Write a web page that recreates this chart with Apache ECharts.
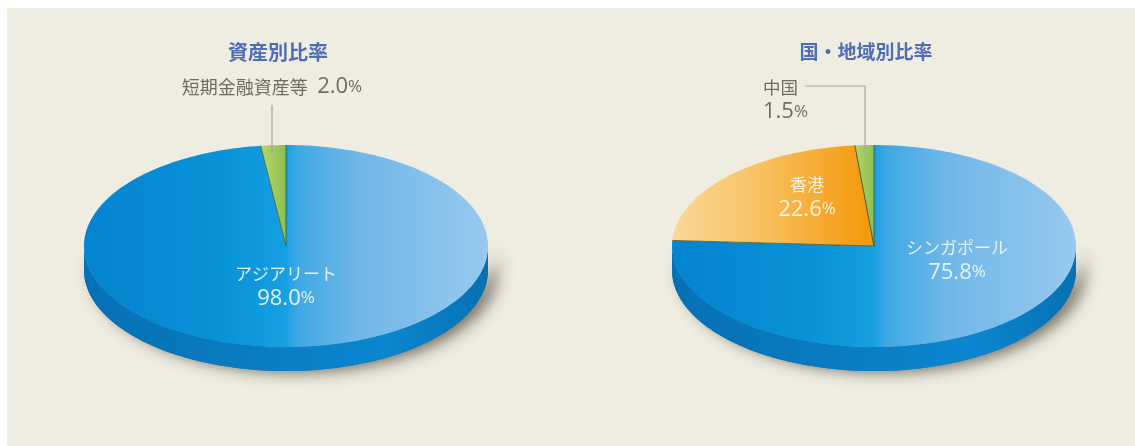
<!DOCTYPE html>
<html lang="ja"><head><meta charset="utf-8">
<style>html,body{margin:0;padding:0;background:#fff}#c{width:1135px;height:446px}</style>
<script src="https://cdn.jsdelivr.net/npm/echarts@6/dist/echarts.min.js"></script>
</head><body><div id="c"></div>
<script>
const assetNames = ['アジアリート', '短期金融資産等'];
const assetValues = [98.0, 2.0];
const regionNames = ['シンガポール', '香港', '中国'];
const regionValues = [75.8, 22.6, 1.5];
const chartTitles = ['資産別比率', '国・地域別比率'];

const FONT = '"Noto Sans CJK JP","Noto Sans",sans-serif';
const NUM = '"Open Sans",sans-serif';
const RX = 202, RY = 101, DEPTH = 24, CY = 246;
const BLUE = [[0,'#0584cf'],[0.35,'#0892d8'],[0.5,'#16a0e2'],[0.53,'#3fa9e4'],[0.68,'#6fb7e8'],[1,'#98c9ef']];
const ORANGE = [[0,'#f9d898'],[0.4,'#f8c468'],[1,'#f59a0e']];
const GREEN = [[0,'#bcd873'],[1,'#8cc04e']];
const SIDE = [[0,'#0670b4'],[0.45,'#0a7cc4'],[0.75,'#0b86d0'],[1,'#0670b2']];

function grad(stops, x0, x1) {
  return {type:'linear', x:x0, y:0, x2:x1, y2:0, global:true,
    colorStops: stops.map(s => ({offset:s[0], color:s[1]}))};
}
function pt(cx, cy, deg) { // clockwise from 12 o'clock on the tilted disc
  const a = deg * Math.PI / 180;
  return [cx + RX * Math.sin(a), cy - RY * Math.cos(a)];
}
function arc(cx, cy, d0, d1) {
  const out = [], n = Math.max(2, Math.ceil(Math.abs(d1 - d0) / 1.5));
  for (let i = 0; i <= n; i++) out.push(pt(cx, cy, d0 + (d1 - d0) * i / n));
  return out;
}
function sideShape(cx) {
  return arc(cx, CY, 90, 270).concat(arc(cx, CY + DEPTH, 270, 90));
}
function pieSeries(name, cx, names, values, fills, extras) {
  const total = values.reduce((a, b) => a + b, 0);
  const rows = names.map((n, i) => [n, values[i], i]);
  return {
    type:'custom', name, coordinateSystem:'none', silent:true, data:rows,
    encode:{value:1, itemName:0},
    renderItem(params, api) {
      const idx = api.value(2);
      let start = 0;
      for (let i = 0; i < idx; i++) start += values[i];
      const d0 = start / total * 360, d1 = (start + values[idx]) / total * 360;
      const children = [];
      if (idx === 0) {
        children.push({type:'polygon', shape:{points:sideShape(cx)},
          style:{fill:'#0670b4', shadowBlur:16, shadowOffsetX:9, shadowOffsetY:1, shadowColor:'rgba(50,45,30,0.7)'}});
        children.push({type:'polygon', shape:{points:sideShape(cx)},
          style:{fill:grad(SIDE, cx - RX, cx + RX)}});
      }
      const fill = fills[idx];
      children.push({type:'polygon',
        shape:{points:[[cx, CY]].concat(arc(cx, CY, d0, d1))},
        style:{fill:grad(fill.stops, fill.from === undefined ? cx - RX : cx + fill.from, fill.to === undefined ? cx + RX : cx + fill.to)}});
      if (idx > 0) {
        children.push({type:'polyline', shape:{points:[pt(cx, CY, d0), [cx, CY], pt(cx, CY, d1)]},
          style:{stroke:'rgba(70,90,40,0.8)', lineWidth:1, fill:null}});
      }
      (extras[idx] || []).forEach(e => children.push(e));
      return {type:'group', children};
    }
  };
}
function labelText(x, y, name, val, color) {
  return {type:'text', x, y, z2:20, style:{
    text:`{n|${name}}\n{v|${val.toFixed(1)}}{p|%}`, align:'center', verticalAlign:'middle',
    rich:{ n:{fontFamily:FONT, fontSize:17, fill:color, color, lineHeight:25, align:'center'},
           v:{fontFamily:NUM, fontSize:22, fill:color, color, lineHeight:25},
           p:{fontFamily:NUM, fontSize:17, fill:color, color, lineHeight:25} } }};
}
const GREY = '#6e6d64', LINE = '#a9a89e';

const option = {
  animation:false, backgroundColor:'#ffffff',
  title: [
    {text:chartTitles[0], left:273, top:37, textAlign:'center',
     textStyle:{fontFamily:FONT, fontSize:20, fontWeight:'bold', color:'#4f6db4'}},
    {text:chartTitles[1], left:861, top:37, textAlign:'center',
     textStyle:{fontFamily:FONT, fontSize:19, fontWeight:'bold', color:'#4f6db4'}}
  ],
  graphic:[{type:'rect', z:-10, shape:{x:7, y:8, width:1128, height:438}, style:{fill:'#efede2'}}],
  series:[
    pieSeries('資産別比率', 286, assetNames, assetValues,
      [{stops:BLUE},{stops:GREEN, from:-28, to:0}],
      { 0:[labelText(286, 286, assetNames[0], assetValues[0], '#e4f3fb')],
        1:[{type:'polyline', shape:{points:[[272,105],[272,153]]}, style:{stroke:LINE, lineWidth:1.2, fill:null}},
           {type:'text', x:272, y:87, z2:20, style:{
             text:`{n|${assetNames[1]}}{g|  }{v|${assetValues[1].toFixed(1)}}{p|%}`, align:'center', verticalAlign:'middle',
             rich:{n:{fontFamily:FONT, fontSize:18, fill:GREY, color:GREY},
                   g:{fontFamily:NUM, fontSize:18},
                   v:{fontFamily:NUM, fontSize:22, fill:GREY, color:GREY},
                   p:{fontFamily:NUM, fontSize:17, fill:GREY, color:GREY}}}}] }),
    pieSeries('国・地域別比率', 874, regionNames, regionValues,
      [{stops:BLUE},{stops:ORANGE, from:-202, to:-8},{stops:GREEN, from:-22, to:0}],
      { 0:[labelText(957, 260, regionNames[0], regionValues[0], '#e4f3fb')],
        1:[labelText(807, 197, regionNames[1], regionValues[1], '#fdf1d8')],
        2:[{type:'polyline', shape:{points:[[805,86],[865,86],[865,153]]}, style:{stroke:LINE, lineWidth:1.2, fill:null}},
           {type:'text', x:763, y:99.5, z2:20, style:{
             text:`{n|${regionNames[2]}}\n{v|${regionValues[2].toFixed(1)}}{p|%}`, align:'left', verticalAlign:'middle',
             rich:{n:{fontFamily:FONT, fontSize:17.5, fill:GREY, color:GREY, lineHeight:25},
                   v:{fontFamily:NUM, fontSize:22, fill:GREY, color:GREY, lineHeight:25},
                   p:{fontFamily:NUM, fontSize:17, fill:GREY, color:GREY, lineHeight:25}}}}] })
  ]
};
echarts.init(document.getElementById('c'), null, {renderer:'canvas'}).setOption(option);
</script></body></html>
